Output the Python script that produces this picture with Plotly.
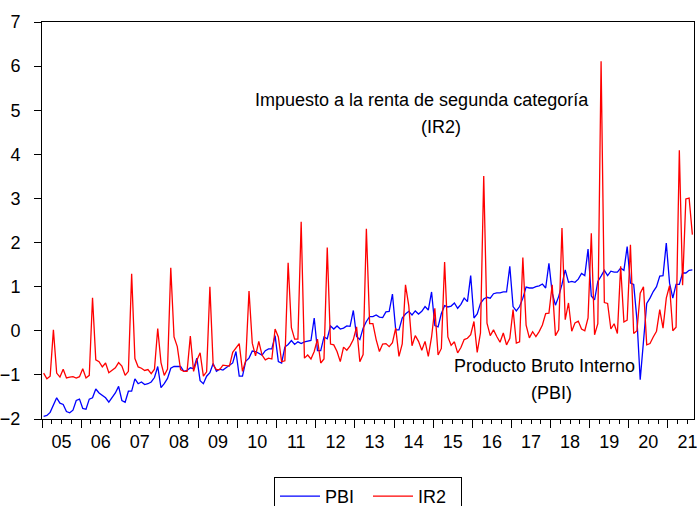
import plotly.graph_objects as go

# Monthly data, Jan 2005 .. Aug 2021 (index 0 = 2005M01)
pbi = [
    -1.94, -1.92, -1.85, -1.68, -1.52, -1.64, -1.67, -1.83, -1.86, -1.80, -1.58, -1.55,  # 2005
    -1.76, -1.78, -1.55, -1.52, -1.32, -1.41, -1.47, -1.52, -1.62, -1.52, -1.41, -1.26,  # 2006
    -1.58, -1.62, -1.37, -1.37, -1.09, -1.20, -1.16, -1.22, -1.20, -1.16, -1.06, -0.81,  # 2007
    -1.29, -1.20, -1.08, -0.85, -0.81, -0.81, -0.81, -0.92, -0.90, -0.84, -0.86, -0.62,  # 2008
    -1.13, -1.20, -1.03, -0.95, -0.74, -0.92, -0.87, -0.89, -0.83, -0.77, -0.73, -0.47,  # 2009
    -1.03, -1.03, -0.69, -0.62, -0.46, -0.47, -0.51, -0.55, -0.45, -0.41, -0.41, -0.11,  # 2010
    -0.70, -0.73, -0.37, -0.31, -0.22, -0.31, -0.25, -0.29, -0.25, -0.23, -0.22, 0.29,   # 2011
    -0.45, -0.45, -0.14, -0.18, 0.11, 0.04, 0.11, 0.04, 0.06, 0.11, 0.10, 0.46,          # 2012
    -0.13, -0.20, 0.06, 0.21, 0.32, 0.32, 0.36, 0.31, 0.30, 0.43, 0.44, 0.83,            # 2013
    0.02, 0.02, 0.29, 0.38, 0.44, 0.36, 0.45, 0.38, 0.44, 0.55, 0.47, 0.88,              # 2014
    0.12, 0.09, 0.39, 0.57, 0.54, 0.56, 0.63, 0.51, 0.60, 0.74, 0.66, 1.25,              # 2015
    0.29, 0.38, 0.62, 0.72, 0.76, 0.74, 0.84, 0.86, 0.86, 0.88, 0.88, 1.46,              # 2016
    0.55, 0.45, 0.55, 0.74, 0.99, 0.97, 0.97, 1.00, 1.02, 1.06, 0.97, 1.53,              # 2017
    0.86, 0.58, 0.78, 1.05, 1.38, 1.10, 1.12, 1.10, 1.17, 1.30, 1.25, 1.85,              # 2018
    0.79, 0.70, 1.12, 1.24, 1.37, 1.25, 1.35, 1.33, 1.33, 1.42, 1.37, 1.91,              # 2019
    1.08, 1.05, 0.25, -1.11, -0.20, 0.62, 0.74, 0.89, 1.00, 1.24, 1.25, 1.99,            # 2020
    1.08, 0.74, 1.05, 1.05, 1.31, 1.31, 1.37, 1.38,                                      # 2021
]

ir2 = [
    -0.96, -1.09, -1.03, 0.02, -0.96, -1.05, -0.87, -1.07, -1.05, -1.04, -1.07, -1.04,   # 2005
    -0.86, -1.07, -1.01, 0.75, -0.66, -0.70, -0.82, -0.73, -0.95, -0.90, -0.84, -0.72,   # 2006
    -0.80, -1.01, -0.92, 1.29, -0.63, -0.82, -0.85, -0.90, -0.88, -0.97, -0.87, 0.05,    # 2007
    -0.72, -1.01, -0.87, 1.43, -0.14, -0.36, -0.88, -0.92, -0.92, -0.12, -0.92, -0.67,   # 2008
    -0.50, -1.03, -0.93, 1.00, -0.77, -0.88, -0.88, -0.78, -0.79, -0.80, -0.49, -0.39,   # 2009
    -0.29, -0.92, -0.67, 0.90, -0.28, -0.57, -0.24, -0.55, -0.66, -0.62, -0.64, 0.04,    # 2010
    -0.14, -0.70, -0.68, 1.54, 0.07, -0.19, -0.19, 2.47, -0.62, -0.55, -0.64, -0.47,     # 2011
    -0.19, -0.73, -0.64, 1.89, -0.30, -0.32, -0.47, -0.70, -0.37, -0.44, -0.34, -0.20,   # 2012
    0.09, -0.70, -0.54, 2.31, 0.16, 0.16, -0.20, -0.47, -0.30, -0.29, -0.36, -0.27,      # 2013
    0.06, -0.58, -0.30, 1.04, 0.57, -0.34, -0.11, -0.24, -0.44, -0.24, -0.58, -0.14,     # 2014
    0.51, -0.55, -0.40, 1.56, -0.14, -0.33, -0.25, -0.50, -0.38, -0.20, -0.17, -0.09,    # 2015
    0.21, -0.49, -0.05, 3.51, 0.17, -0.11, 0.02, -0.13, -0.26, -0.05, -0.32, -0.17,      # 2016
    0.48, -0.28, -0.25, 1.66, 0.13, -0.16, -0.02, -0.13, -0.02, 0.13, 0.39, 0.40,        # 2017
    1.04, -0.11, 0.02, 2.33, 0.25, 0.63, -0.01, 0.18, 0.22, 0.04, 0.00, 0.29,            # 2018
    2.21, -0.09, 0.16, 6.11, 0.64, 0.62, 0.04, 0.16, -0.06, 1.46, 0.20, 0.24,            # 2019
    1.95, -0.06, 0.00, 0.85, 1.00, -0.32, -0.29, -0.14, -0.01, 0.48, 0.06, 0.74,         # 2020
    1.02, 0.00, 0.08, 4.09, 1.03, 2.99, 3.01, 2.18,                                      # 2021
]

year_labels = ["05", "06", "07", "08", "09", "10", "11", "12", "13",
               "14", "15", "16", "17", "18", "19", "20", "21"]

months = list(range(len(pbi)))
FONT = "Liberation Sans, Arial, sans-serif"
FS = 18

n_years = len(year_labels)
year_centers = [12 * k + 5.5 for k in range(n_years)]
year_bounds = [12 * k - 0.5 for k in range(n_years + 1)]
quarter_bounds = [3 * k - 0.5 for k in range(4 * n_years + 1) if k % 4 != 0]
xr = [-0.5, len(pbi) - 0.5]

fig = go.Figure()
fig.add_trace(go.Scatter(x=months, y=pbi, mode="lines", name="PBI",
                         line=dict(color="#0000FF", width=1.3), xaxis="x", yaxis="y"))
fig.add_trace(go.Scatter(x=months, y=ir2, mode="lines", name="IR2",
                         line=dict(color="#FF0000", width=1.3), xaxis="x2", yaxis="y"))

fig.update_layout(
    width=697, height=506,
    margin=dict(l=42, r=3, t=22, b=87, autoexpand=False),
    paper_bgcolor="white", plot_bgcolor="white",
    font=dict(family=FONT, size=FS, color="black"),
    showlegend=True,
    legend=dict(orientation="h", x=0.5, xanchor="center", xref="paper",
                y=(506 - 477) / 506, yanchor="top", yref="container",
                bordercolor="black", borderwidth=1, font=dict(size=FS),
                itemwidth=40, entrywidth=38, entrywidthmode="pixels",
                tracegroupgap=0),
    xaxis=dict(range=xr, tickmode="array", tickvals=year_centers, ticktext=year_labels,
               ticks="", showline=True, linecolor="black", linewidth=1, mirror=True,
               showgrid=False, zeroline=False, ticklabelstandoff=6, automargin=False,
               ticklabeloverflow="allow",
               tickfont=dict(size=FS, color="black")),
    xaxis2=dict(range=xr, overlaying="x", anchor="y", side="bottom",
                tickmode="array", tickvals=year_bounds, ticks="outside", ticklen=8,
                tickcolor="black", showticklabels=False, showline=False,
                showgrid=False, zeroline=False, automargin=False,
                minor=dict(tickmode="array", tickvals=quarter_bounds, ticks="outside",
                           ticklen=4, tickcolor="black", showgrid=False)),
    yaxis=dict(range=[-2, 7], tickmode="linear", tick0=-2, dtick=1, ticks="outside",
               ticklen=7, tickcolor="black", showline=True, linecolor="black",
               linewidth=1, mirror=True, showgrid=False, zeroline=False,
               ticklabelstandoff=10, automargin=False,
               tickfont=dict(size=FS, color="black")),
    annotations=[
        dict(x=116.2, y=5.24, xref="x", yref="y", showarrow=False,
             text="Impuesto a la renta de segunda categoría",
             font=dict(size=FS, color="black")),
        dict(x=121.8, y=4.63, xref="x", yref="y", showarrow=False,
             text="(IR2)", font=dict(size=FS, color="black")),
        dict(x=153.5, y=-0.79, xref="x", yref="y", showarrow=False,
             text="Producto Bruto Interno", font=dict(size=FS, color="black")),
        dict(x=155.8, y=-1.41, xref="x", yref="y", showarrow=False,
             text="(PBI)", font=dict(size=FS, color="black")),
    ],
)

fig.write_html("out.html", config={"displayModeBar": False},
               post_script="document.body.style.margin='0';")
